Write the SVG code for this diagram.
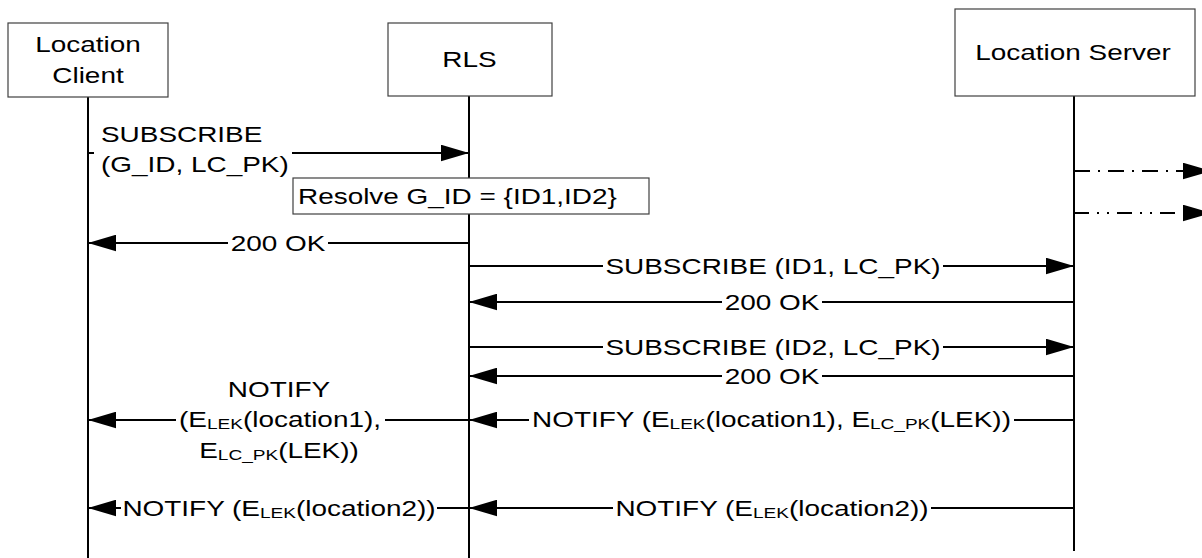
<svg xmlns="http://www.w3.org/2000/svg" width="1202" height="558" viewBox="0 0 1202 558">
<style>
.t { font-family: "Liberation Sans", Arial, sans-serif; font-size: 22px; fill: #000; }
.sub { font-size: 15px; }
.box { fill: #fff; stroke: #404040; stroke-width: 1.2; }
.life { stroke: #000; stroke-width: 2; }
.msg { stroke: #000; stroke-width: 2; fill: none; }
.dd1 { stroke: #000; stroke-width: 2; fill: none; stroke-dasharray: 16 8 2 8; }
.dd2 { stroke: #000; stroke-width: 2; fill: none; stroke-dasharray: 15 8 2 8 2 8; }
</style>
<defs>
<marker id="ah" markerUnits="userSpaceOnUse" markerWidth="28" markerHeight="17" viewBox="0 0 27 16" refX="27" refY="8" orient="auto">
<path d="M0,0 L27,8 L0,16 z" fill="#000"/>
</marker>
</defs>
<rect width="1202" height="558" fill="#fff"/>

<g id="client">
<line class="life" x1="88" y1="97" x2="88" y2="558"/>
<rect class="box" x="8" y="23" width="160" height="74"/>
<text class="t" text-anchor="middle" transform="translate(88,52) scale(1.27,1)">Location</text>
<text class="t" text-anchor="middle" transform="translate(88,83) scale(1.27,1)">Client</text>
</g>

<g id="rls">
<line class="life" x1="469" y1="96" x2="469" y2="558"/>
<rect class="box" x="388" y="23" width="164" height="73"/>
<text class="t" text-anchor="middle" transform="translate(469.5,67) scale(1.27,1)">RLS</text>
</g>

<g id="server">
<line class="life" x1="1074" y1="96" x2="1074" y2="551"/>
<rect class="box" x="955" y="9" width="240" height="87"/>
<text class="t" text-anchor="middle" transform="translate(1073,60) scale(1.27,1)">Location Server</text>
</g>

<g id="connectors">
<line class="msg" x1="88" y1="153" x2="94" y2="153"/>
<line class="msg" x1="292" y1="153" x2="469" y2="153" marker-end="url(#ah)"/>
<line class="msg" x1="228" y1="243" x2="88" y2="243" marker-end="url(#ah)"/>
<line class="msg" x1="328" y1="243" x2="469" y2="243"/>
<line class="dd1" x1="1074" y1="171" x2="1211" y2="171" marker-end="url(#ah)"/>
<line class="dd2" x1="1074" y1="213" x2="1211" y2="213" marker-end="url(#ah)"/>
<line class="msg" x1="469" y1="266" x2="603" y2="266"/>
<line class="msg" x1="943" y1="266" x2="1074" y2="266" marker-end="url(#ah)"/>
<line class="msg" x1="722" y1="302" x2="469" y2="302" marker-end="url(#ah)"/>
<line class="msg" x1="822" y1="302" x2="1074" y2="302"/>
<line class="msg" x1="469" y1="347" x2="603" y2="347"/>
<line class="msg" x1="943" y1="347" x2="1074" y2="347" marker-end="url(#ah)"/>
<line class="msg" x1="722" y1="376" x2="469" y2="376" marker-end="url(#ah)"/>
<line class="msg" x1="822" y1="376" x2="1074" y2="376"/>
<line class="msg" x1="529" y1="420" x2="469" y2="420" marker-end="url(#ah)"/>
<line class="msg" x1="1014" y1="420" x2="1074" y2="420"/>
<line class="msg" x1="176" y1="420" x2="88" y2="420" marker-end="url(#ah)"/>
<line class="msg" x1="385" y1="420" x2="469" y2="420"/>
<line class="msg" x1="613" y1="508" x2="469" y2="508" marker-end="url(#ah)"/>
<line class="msg" x1="931" y1="508" x2="1074" y2="508"/>
<line class="msg" x1="121" y1="508" x2="88" y2="508" marker-end="url(#ah)"/>
<line class="msg" x1="437" y1="508" x2="469" y2="508"/>
</g>

<g id="resolve">
<rect class="box" x="293" y="178" width="356" height="36"/>
<text class="t" transform="translate(298,204) scale(1.27,1)">Resolve G_ID = {ID1,ID2}</text>
</g>

<g id="labels">
<text class="t" transform="translate(101,142) scale(1.27,1)">SUBSCRIBE</text>
<text class="t" transform="translate(101,172) scale(1.27,1)">(G_ID, LC_PK)</text>
<text class="t" text-anchor="middle" transform="translate(278,251) scale(1.27,1)">200 OK</text>
<text class="t" text-anchor="middle" transform="translate(773,274) scale(1.27,1)">SUBSCRIBE (ID1, LC_PK)</text>
<text class="t" text-anchor="middle" transform="translate(772,310) scale(1.27,1)">200 OK</text>
<text class="t" text-anchor="middle" transform="translate(773,355) scale(1.27,1)">SUBSCRIBE (ID2, LC_PK)</text>
<text class="t" text-anchor="middle" transform="translate(772,384) scale(1.27,1)">200 OK</text>
<text class="t" text-anchor="middle" transform="translate(771.5,427) scale(1.27,1)">NOTIFY (E<tspan class="sub" dy="2">LEK</tspan><tspan dy="-2">(location1), E</tspan><tspan class="sub" dy="2">LC_PK</tspan><tspan dy="-2">(LEK))</tspan></text>
<text class="t" text-anchor="middle" transform="translate(279,397) scale(1.27,1)">NOTIFY</text>
<text class="t" text-anchor="middle" transform="translate(280,427) scale(1.27,1)">(E<tspan class="sub" dy="2">LEK</tspan><tspan dy="-2">(location1),</tspan></text>
<text class="t" text-anchor="middle" transform="translate(279,458) scale(1.27,1)">E<tspan class="sub" dy="2">LC_PK</tspan><tspan dy="-2">(LEK))</tspan></text>
<text class="t" text-anchor="middle" transform="translate(772,516) scale(1.27,1)">NOTIFY (E<tspan class="sub" dy="2">LEK</tspan><tspan dy="-2">(location2))</tspan></text>
<text class="t" text-anchor="middle" transform="translate(279,516) scale(1.27,1)">NOTIFY (E<tspan class="sub" dy="2">LEK</tspan><tspan dy="-2">(location2))</tspan></text>
</g>
</svg>
